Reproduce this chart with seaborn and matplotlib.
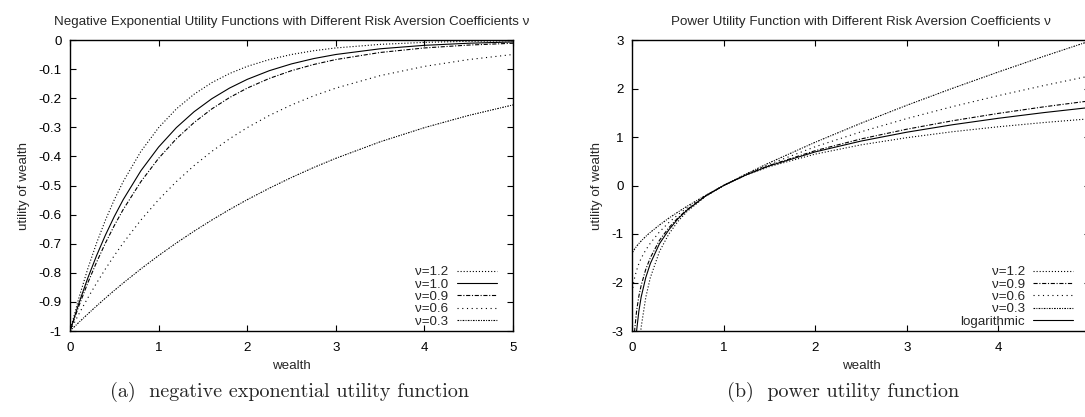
import numpy as np
import pandas as pd
import matplotlib
matplotlib.use("Agg")
import matplotlib.pyplot as plt
import seaborn as sns

# ---- negative exponential utility  u(w) = -exp(-v w) ----
wealth_exp = [0, 0.1, 0.2, 0.3, 0.4, 0.5, 0.6, 0.8, 1.0, 1.2, 1.4, 1.6, 1.8, 2.0,
              2.25, 2.5, 2.75, 3.0, 3.5, 4.0, 4.5, 5.0]
exp_v12 = [-1.0, -0.8869, -0.7866, -0.6977, -0.6188, -0.5488, -0.4868, -0.3829, -0.3012,
           -0.2369, -0.1864, -0.1466, -0.1153, -0.0907, -0.0672, -0.0498, -0.0369,
           -0.0273, -0.0150, -0.0082, -0.0045, -0.0025]
exp_v10 = [-1.0, -0.9048, -0.8187, -0.7408, -0.6703, -0.6065, -0.5488, -0.4493, -0.3679,
           -0.3012, -0.2466, -0.2019, -0.1653, -0.1353, -0.1054, -0.0821, -0.0639,
           -0.0498, -0.0302, -0.0183, -0.0111, -0.0067]
exp_v09 = [-1.0, -0.9139, -0.8353, -0.7634, -0.6977, -0.6376, -0.5827, -0.4868, -0.4066,
           -0.3396, -0.2837, -0.2369, -0.1979, -0.1653, -0.1320, -0.1054, -0.0842,
           -0.0672, -0.0429, -0.0273, -0.0174, -0.0111]
exp_v06 = [-1.0, -0.9418, -0.8869, -0.8353, -0.7866, -0.7408, -0.6977, -0.6188, -0.5488,
           -0.4868, -0.4317, -0.3829, -0.3396, -0.3012, -0.2592, -0.2231, -0.1920,
           -0.1653, -0.1225, -0.0907, -0.0672, -0.0498]
exp_v03 = [-1.0, -0.9704, -0.9418, -0.9139, -0.8869, -0.8607, -0.8353, -0.7866, -0.7408,
           -0.6977, -0.6570, -0.6188, -0.5827, -0.5488, -0.5092, -0.4724, -0.4382,
           -0.4066, -0.3499, -0.3012, -0.2592, -0.2231]

# ---- power utility  u(w) = (w^(1-v) - 1) / (1 - v),  log for v = 1 ----
nan = float("nan")
wealth_pow = [0, 0.005, 0.01, 0.02, 0.03, 0.05, 0.075, 0.1, 0.15, 0.2, 0.3, 0.4, 0.5,
              0.6, 0.8, 1.0, 1.25, 1.5, 2.0, 2.5, 3.0, 3.5, 4.0, 4.5, 5.0]
pow_v12 = [nan, -9.43, -7.56, -5.93, -5.08, -4.10, -3.39, -2.92, -2.31, -1.90, -1.36,
           -1.006, -0.744, -0.538, -0.228, 0.0, 0.218, 0.390, 0.647, 0.838, 0.986,
           1.109, 1.211, 1.299, 1.376]
pow_v09 = [-10.0, -4.11, -3.69, -3.24, -2.96, -2.59, -2.28, -2.06, -1.73, -1.49, -1.13,
           -0.875, -0.670, -0.498, -0.221, 0.0, 0.226, 0.414, 0.718, 0.960, 1.161,
           1.335, 1.487, 1.623, 1.746]
pow_v06 = [-2.5, -2.20, -2.10, -1.98, -1.89, -1.75, -1.61, -1.50, -1.33, -1.19, -0.956,
           -0.767, -0.605, -0.462, -0.214, 0.0, 0.233, 0.440, 0.799, 1.107, 1.380,
           1.627, 1.853, 2.063, 2.259]
pow_v03 = [-1.429, -1.394, -1.372, -1.336, -1.306, -1.253, -1.196, -1.144, -1.050,
           -0.966, -0.814, -0.676, -0.549, -0.429, -0.207, 0.0, 0.242, 0.469, 0.892,
           1.284, 1.654, 2.005, 2.341, 2.666, 2.979]
pow_log = [nan, -5.30, -4.61, -3.91, -3.51, -3.00, -2.59, -2.30, -1.90, -1.61, -1.20,
           -0.92, -0.69, -0.51, -0.22, 0.0, 0.223, 0.405, 0.693, 0.916, 1.099, 1.253,
           1.386, 1.504, 1.609]

exp_labels = ["ν=1.2", "ν=1.0", "ν=0.9", "ν=0.6", "ν=0.3"]
pow_labels = ["ν=1.2", "ν=0.9", "ν=0.6", "ν=0.3", "logarithmic"]

exp_yticks = [-1.0, -0.9, -0.8, -0.7, -0.6, -0.5, -0.4, -0.3, -0.2, -0.1, 0.0]
exp_yticklabels = ["-1", "-0.9", "-0.8", "-0.7", "-0.6", "-0.5", "-0.4", "-0.3",
                   "-0.2", "-0.1", "0"]
exp_xticks = [0, 1, 2, 3, 4, 5]
pow_yticks = [-3, -2, -1, 0, 1, 2, 3]
pow_yticklabels = ["-3", "-2", "-1", "0", "1", "2", "3"]
pow_xticks = [0, 1, 2, 3, 4]

title_exp = "Negative Exponential Utility Functions with Different Risk Aversion Coefficients ν"
title_pow = "Power Utility Function with Different Risk Aversion Coefficients ν"
caption_exp = "(a)  negative exponential utility function"
caption_pow = "(b)  power utility function"

sns.set_style("ticks")
plt.rcParams["font.family"] = ["Liberation Sans", "DejaVu Sans"]
plt.rcParams["lines.scale_dashes"] = False
plt.rcParams["axes.linewidth"] = 1.0

FS = 9.6
dotted_fine = (0, (0.8, 1.4))
solid = "-"
dashdot = (0, (3.0, 1.2, 0.8, 1.2))
dotted_sparse = (0, (0.8, 2.6))
dotted_grouped = (0, (1.2, 0.9, 0.7, 0.9))

exp_styles = [dotted_fine, solid, dashdot, dotted_sparse, dotted_grouped]
pow_styles = [dotted_fine, dashdot, dotted_sparse, dotted_grouped, solid]

fig = plt.figure(figsize=(10.85, 4.17), dpi=100)
ax1 = fig.add_axes([70 / 1085, 86 / 417, 443 / 1085, 291 / 417])
ax2 = fig.add_axes([632 / 1085, 86 / 417, 458 / 1085, 291 / 417])

for vals, lab, ls in zip([exp_v12, exp_v10, exp_v09, exp_v06, exp_v03], exp_labels, exp_styles):
    sns.lineplot(x=wealth_exp, y=vals, ax=ax1, color="black", linewidth=0.8,
                 linestyle=ls, label=lab, estimator=None, sort=False)

for vals, lab, ls in zip([pow_v12, pow_v09, pow_v06, pow_v03, pow_log], pow_labels, pow_styles):
    sns.lineplot(x=wealth_pow, y=vals, ax=ax2, color="black", linewidth=0.8,
                 linestyle=ls, label=lab, estimator=None, sort=False)


def style_axes(ax, title, xticks, yticks, yticklabels, ylim):
    ax.set_xlim(0, 5)
    ax.set_ylim(*ylim)
    ax.set_xticks(xticks)
    ax.set_xticklabels([str(t) for t in xticks])
    ax.set_yticks(yticks)
    ax.set_yticklabels(yticklabels)
    ax.tick_params(direction="in", length=4, width=0.8, top=True, right=True,
                   labelsize=FS, colors="black")
    ax.tick_params(axis="x", pad=8)
    ax.tick_params(axis="y", pad=6)
    for sp in ax.spines.values():
        sp.set_visible(True)
        sp.set_color("black")
        sp.set_linewidth(1.0)
    ax.set_title(title, fontsize=FS, pad=11)
    ax.set_xlabel("wealth", fontsize=FS, labelpad=4)
    ax.set_ylabel("utility of wealth", fontsize=FS, labelpad=6)
    ax.legend(loc="lower right", frameon=False, markerfirst=False, fontsize=FS,
              handlelength=3.0, handletextpad=0.6, labelspacing=0.0,
              borderpad=0.0, borderaxespad=0.0, bbox_to_anchor=(0.963, 0.012))


style_axes(ax1, title_exp, exp_xticks, exp_yticks, exp_yticklabels, (-1, 0))
style_axes(ax2, title_pow, pow_xticks, pow_yticks, pow_yticklabels, (-3, 3))

fig.text(290 / 1085, 1 - 392 / 417, caption_exp, fontsize=14.5, family="cmr10",
         ha="center", va="center")
fig.text(843 / 1085, 1 - 392 / 417, caption_pow, fontsize=14.5, family="cmr10",
         ha="center", va="center")

fig.savefig("out.png", dpi=100)
